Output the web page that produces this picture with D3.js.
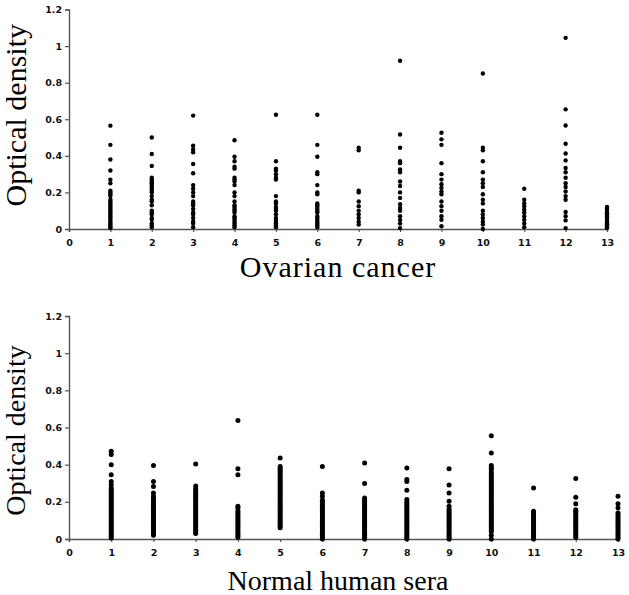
<!DOCTYPE html>
<html><head><meta charset="utf-8">
<script src="https://cdn.jsdelivr.net/npm/d3@7"></script>
<style>body{margin:0;background:#fff}svg{display:block}</style>
</head><body>
<script>
const categories = [1,2,3,4,5,6,7,8,9,10,11,12,13];
const xTicks = [0,1,2,3,4,5,6,7,8,9,10,11,12,13];
const yTicks = [0,0.2,0.4,0.6,0.8,1,1.2];
const yTickLabels = ["0","0.2","0.4","0.6","0.8","1","1.2"];

const ovarianCancer = [
  [0.565,0.46,0.38,0.32,0.27,0.25,0.21,0.2,0.19,0.18,0.16,0.15,0.14,0.13,0.12,0.11,0.10,0.09,0.08,0.07,0.06,0.05,0.04,0.03,0.02,0.01,0.005],
  [0.5,0.41,0.345,0.28,0.27,0.26,0.25,0.24,0.23,0.22,0.21,0.2,0.18,0.16,0.15,0.13,0.1,0.09,0.08,0.06,0.05,0.03,0.02,0.01],
  [0.62,0.455,0.435,0.42,0.355,0.305,0.24,0.22,0.2,0.18,0.15,0.14,0.13,0.11,0.09,0.08,0.06,0.04,0.03,0.01],
  [0.485,0.395,0.37,0.34,0.33,0.28,0.27,0.26,0.24,0.2,0.18,0.15,0.13,0.12,0.11,0.1,0.09,0.07,0.06,0.05,0.04,0.03,0.02,0.01],
  [0.625,0.37,0.33,0.32,0.3,0.28,0.27,0.18,0.15,0.14,0.12,0.11,0.1,0.08,0.06,0.05,0.04,0.03,0.02,0.01],
  [0.625,0.46,0.395,0.31,0.3,0.24,0.2,0.19,0.14,0.13,0.12,0.11,0.1,0.09,0.07,0.06,0.05,0.04,0.03,0.02,0.01],
  [0.444,0.43,0.21,0.2,0.15,0.125,0.1,0.08,0.06,0.04,0.025],
  [0.92,0.517,0.444,0.37,0.36,0.325,0.31,0.26,0.235,0.2,0.17,0.135,0.115,0.1,0.07,0.05,0.03,0.005],
  [0.526,0.49,0.46,0.36,0.3,0.27,0.245,0.225,0.205,0.19,0.15,0.125,0.1,0.07,0.05,0.015],
  [0.85,0.444,0.43,0.37,0.31,0.27,0.25,0.23,0.19,0.16,0.14,0.1,0.08,0.06,0.04,0.025,0.0],
  [0.22,0.16,0.14,0.125,0.105,0.09,0.07,0.05,0.03,0.01],
  [1.045,0.654,0.566,0.466,0.413,0.375,0.334,0.31,0.28,0.25,0.23,0.205,0.18,0.16,0.093,0.07,0.047,0.005],
  [0.12,0.115,0.11,0.1,0.09,0.085,0.08,0.07,0.06,0.055,0.05,0.04,0.03,0.025,0.02,0.01,0.005]
];

const normalSera = [
  [0.472,0.455,0.40,0.346,0.31,0.29,0.274,0.265,0.255,0.245,0.235,0.225,0.215,0.205,0.195,0.185,0.175,0.165,0.155,0.145,0.135,0.125,0.115,0.105,0.095,0.085,0.075,0.065,0.055,0.045,0.035,0.025,0.015,0.005],
  [0.396,0.31,0.283,0.247,0.23,0.22,0.21,0.2,0.19,0.18,0.17,0.16,0.15,0.14,0.13,0.12,0.11,0.1,0.09,0.08,0.07,0.06,0.05,0.04,0.03,0.02],
  [0.404,0.285,0.27,0.26,0.25,0.24,0.23,0.22,0.21,0.2,0.19,0.18,0.17,0.16,0.15,0.14,0.13,0.12,0.11,0.1,0.09,0.08,0.07,0.06,0.05,0.04,0.03],
  [0.637,0.378,0.346,0.176,0.165,0.15,0.14,0.13,0.12,0.11,0.1,0.09,0.08,0.07,0.06,0.05,0.04,0.03,0.02,0.01],
  [0.436,0.39,0.38,0.37,0.36,0.35,0.34,0.33,0.32,0.31,0.3,0.29,0.28,0.27,0.26,0.25,0.24,0.23,0.22,0.21,0.2,0.19,0.18,0.17,0.16,0.15,0.14,0.13,0.12,0.11,0.1,0.09,0.08,0.07,0.06],
  [0.39,0.247,0.23,0.21,0.2,0.19,0.18,0.17,0.16,0.15,0.14,0.13,0.12,0.11,0.1,0.09,0.08,0.07,0.06,0.05,0.04,0.03,0.02,0.01,0.0],
  [0.409,0.298,0.22,0.21,0.2,0.19,0.18,0.17,0.16,0.15,0.14,0.13,0.12,0.11,0.1,0.09,0.08,0.07,0.06,0.05,0.04,0.03,0.02,0.01,0.0],
  [0.382,0.32,0.31,0.262,0.212,0.2,0.19,0.18,0.17,0.16,0.15,0.14,0.13,0.12,0.11,0.1,0.09,0.08,0.07,0.06,0.05,0.04,0.03,0.02,0.01,0.0],
  [0.378,0.29,0.247,0.203,0.176,0.16,0.15,0.14,0.13,0.12,0.11,0.1,0.09,0.08,0.07,0.06,0.05,0.04,0.03,0.02,0.01,0.0],
  [0.556,0.463,0.396,0.385,0.375,0.36,0.35,0.34,0.33,0.32,0.31,0.3,0.29,0.28,0.27,0.26,0.25,0.24,0.23,0.22,0.21,0.2,0.19,0.18,0.17,0.16,0.15,0.14,0.13,0.12,0.11,0.1,0.09,0.08,0.07,0.06,0.05,0.04,0.02,0.0],
  [0.274,0.149,0.14,0.13,0.12,0.11,0.1,0.09,0.08,0.07,0.06,0.05,0.04,0.03,0.02,0.01,0.0],
  [0.325,0.224,0.19,0.158,0.15,0.14,0.13,0.12,0.11,0.1,0.09,0.08,0.07,0.06,0.05,0.04,0.03,0.02,0.01],
  [0.23,0.19,0.167,0.14,0.13,0.12,0.11,0.1,0.09,0.08,0.07,0.06,0.05,0.04,0.03,0.02,0.01,0.0]
];

const W = 629, H = 595;
const svg = d3.select("body").append("svg").attr("width", W).attr("height", H);

function panel(cfg) {
  const x = d3.scaleLinear().domain([0, 13]).range([cfg.x0, cfg.x1]);
  const y = d3.scaleLinear().domain([0, 1.2]).range([cfg.y0, cfg.y1]);
  const g = svg.append("g");

  const yAxis = d3.axisLeft(y).tickValues(yTicks).tickSize(4).tickPadding(3)
    .tickFormat((d, i) => yTickLabels[i]);
  const ya = g.append("g").attr("transform", `translate(${cfg.x0},0)`).call(yAxis);
  const xAxis = d3.axisBottom(x).tickValues(xTicks).tickSize(3).tickPadding(7)
    .tickFormat(d3.format("d"));
  const xa = g.append("g").attr("transform", `translate(0,${cfg.y0})`).call(xAxis);
  [ya, xa].forEach(a => {
    a.select(".domain").attr("stroke", "#555").attr("stroke-width", 1.4);
    a.selectAll(".tick line").attr("stroke", "#555").attr("stroke-width", 1.2);
    a.selectAll("text").attr("font-family", "DejaVu Sans").attr("font-weight", "bold")
      .attr("font-size", 9.5).attr("fill", "#111");
  });

  const pts = [];
  cfg.data.forEach((vals, i) => vals.forEach(v => pts.push({c: categories[i], v})));
  g.append("g").selectAll("circle").data(pts).join("circle")
    .attr("cx", d => x(d.c)).attr("cy", d => y(d.v)).attr("r", cfg.r).attr("fill", "#000");

  g.append("text")
    .attr("transform", `translate(${cfg.yTitleX},${(cfg.y0 + cfg.y1) / 2 + cfg.yTitleDy}) rotate(-90)`)
    .attr("text-anchor", "middle").attr("font-family", "Liberation Serif")
    .attr("font-size", cfg.yTitleSize).attr("fill", "#000").text("Optical density");
  g.append("text")
    .attr("x", cfg.xTitleX).attr("y", cfg.xTitleY)
    .attr("text-anchor", "middle").attr("font-family", "Liberation Serif")
    .attr("font-size", cfg.xTitleSize).attr("letter-spacing", cfg.xTitleLs)
    .attr("fill", "#000").text(cfg.xTitle);
}

panel({x0: 69, x1: 607, y0: 229, y1: 9.5, data: ovarianCancer, r: 2.2,
  yTitleX: 26, yTitleDy: -4, yTitleSize: 30, xTitle: "Ovarian cancer", xTitleX: 338, xTitleY: 277, xTitleSize: 30, xTitleLs: 1});
panel({x0: 69, x1: 618, y0: 539, y1: 316, data: normalSera, r: 2.5,
  yTitleX: 25, yTitleDy: 3, yTitleSize: 28, xTitle: "Normal human sera", xTitleX: 338, xTitleY: 590, xTitleSize: 28, xTitleLs: 0});
</script>
</body></html>
